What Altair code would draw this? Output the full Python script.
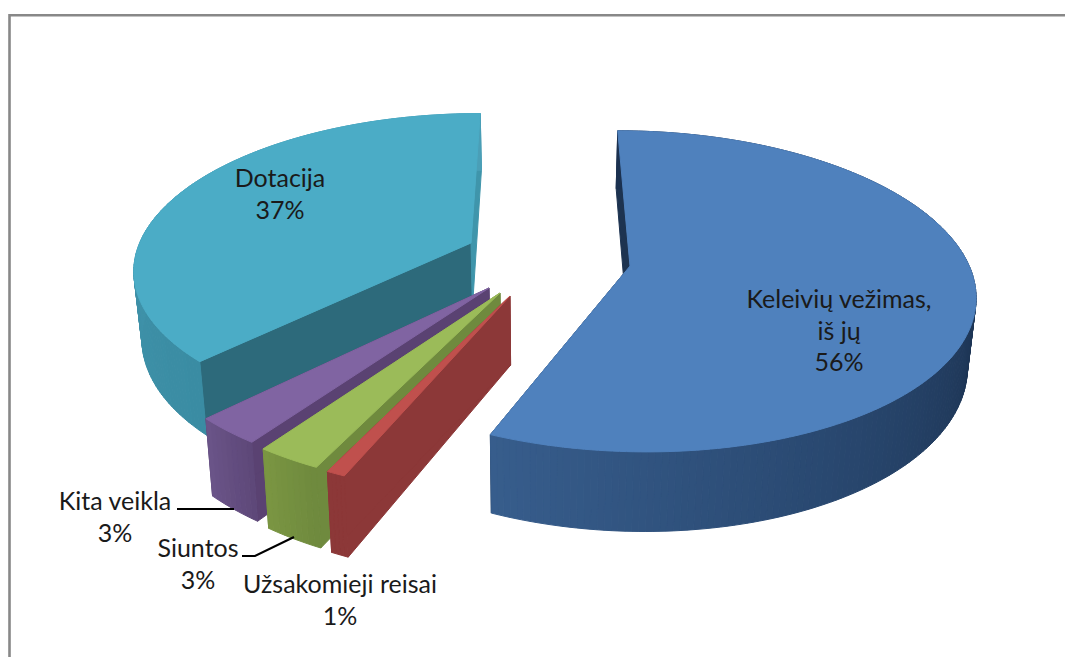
import math
import altair as alt

# Chart data: shares
categories = ["Keleivių vežimas, iš jų", "Užsakomieji reisai", "Siuntos", "Kita veikla", "Dotacija"]
shares = [56.35, 0.75, 2.6, 2.75, 37.49]

label_lines = [["Keleivių vežimas,", "iš jų", "56%"], ["Užsakomieji reisai", "1%"], ["Siuntos", "3%"],
               ["Kita veikla", "3%"], ["Dotacija", "37%"]]
label_xy = [(839, 300), (340, 585), (198, 549), (115, 502), (280, 179)]
LINE_H = 31.5

# Exploded slice tips on the page, and colours
tips = [(630, 266), (510, 296), (500, 293), (489, 288), (471, 243)]
top_col = ["#4F81BD", "#C0504D", "#9BBB59", "#8064A2", "#4BACC6"]
wall_start = ["#1D3350", "#8C3838", "#6F8A3E", "#5A4272", "#2D6A7B"]
wall_end = ["#1D3350", "#8C3838", "#6F8A3E", "#5A4272", "#3F95AB"]
side_stops = [["#1B3150", "#1B3150", "#1C3352", "#294870", "#375D8C"], ["#8C3838", "#8C3838"],
              ["#6F8A3E", "#7A9542"], ["#5E4879", "#6A5488"], ["#3A8CA3", "#4A9FB7"]]

# Projection of the 3-D pie
CX, CY, RX, RY, P, H, Q = 540, 280, 344, 161, 0.16, 68, 0.02


def project(x, z, d=0):
    w = 1 + P * z
    return [CX + RX * x / w * (1 - Q * d), CY - RY * z / w + H * d / w]


def unproject(sx, sy):
    u, v = (sx - CX) / RX, (CY - sy) / RY
    w = 1 / (1 - P * v)
    return u * w, v * w


def mix(stops, t):
    t = max(0, min(1, t)) * (len(stops) - 1)
    i = min(int(t), len(stops) - 2)
    f = t - i
    a, b = stops[i], stops[i + 1]
    ca = [int(a[k:k + 2], 16) for k in (1, 3, 5)]
    cb = [int(b[k:k + 2], 16) for k in (1, 3, 5)]
    return "#%02x%02x%02x" % tuple(round(p + (q - p) * f) for p, q in zip(ca, cb))


def poly(pts, color):
    return {"type": "Feature", "properties": {"c": color},
            "geometry": {"type": "Polygon", "coordinates": [pts + [pts[0]]]}}


def slice_faces(i, a0, a1):
    ax, az = unproject(*tips[i])
    pt = lambda a, d=0: project(ax + math.sin(a), az + math.cos(a), d)
    tip = lambda d=0: project(ax, az, d)
    n = max(4, int((a1 - a0) / math.radians(1)))
    angs = [a0 + (a1 - a0) * k / n for k in range(n + 1)]
    faces = [
        poly([tip(), pt(a0), pt(a0, 1), tip(1)], wall_start[i]),
        poly([tip(), pt(a1), pt(a1, 1), tip(1)], wall_end[i]),
    ]
    for k in range(n):
        faces.append(poly([pt(angs[k]), pt(angs[k + 1]), pt(angs[k + 1], 1), pt(angs[k], 1)],
                          mix(side_stops[i], k / (n - 1))))
    faces.append(poly([tip()] + [pt(a) for a in angs], top_col[i]))
    return faces


total = sum(shares)
starts, acc = [], 0
for s in shares:
    starts.append(acc)
    acc += s
feats = {}
for i in range(5):
    a0 = 2 * math.pi * starts[i] / total
    a1 = a0 + 2 * math.pi * shares[i] / total
    feats[i] = slice_faces(i, a0, a1)
features = []
for i in [4, 3, 2, 1, 0]:
    features += feats[i]

lines = [
    {"type": "Feature", "properties": {"c": "#888888"},
     "geometry": {"type": "LineString", "coordinates": [[9.5, 657], [9.5, 15.3], [1065, 15.3]]}},
]
leaders = [
    {"type": "Feature", "properties": {"c": "#000000"},
     "geometry": {"type": "LineString", "coordinates": [[177, 509], [234, 509]]}},
    {"type": "Feature", "properties": {"c": "#000000"},
     "geometry": {"type": "LineString", "coordinates": [[242, 556], [255, 556], [294, 537]]}},
]

text_rows = []
for ls, (x, y) in zip(label_lines, label_xy):
    for k, t in enumerate(ls):
        text_rows.append({"x": x, "y": y + k * LINE_H, "t": t})

proj = alt.Projection(type="identity", scale=1, translate=[-8, -8])


def geo(fs):
    return alt.Chart(alt.Data(values={"type": "FeatureCollection", "features": fs},
                              format=alt.DataFormat(type="json", property="features")))


faces_layer = geo(features).mark_geoshape(strokeWidth=1).encode(
    fill=alt.Fill("properties.c:N", scale=None), stroke=alt.Stroke("properties.c:N", scale=None))
frame_layer = geo(lines).mark_geoshape(filled=False, strokeWidth=2.6, stroke="#888888")
leader_layer = geo(leaders).mark_geoshape(filled=False, strokeWidth=2.2, stroke="#000000")
text_layer = alt.Chart(alt.Data(values=text_rows)).mark_text(
    font="Lato", fontSize=25, color="#1a1a1a", baseline="middle", align="center"
).encode(longitude="x:Q", latitude="y:Q", text="t:N")

chart = alt.layer(frame_layer, faces_layer, leader_layer, text_layer, projection=proj).properties(
    width=1057, height=649, padding=0
).configure_view(stroke=None).configure(background="white")

chart.save("out.html", embed_options={"renderer": "svg", "actions": False})
